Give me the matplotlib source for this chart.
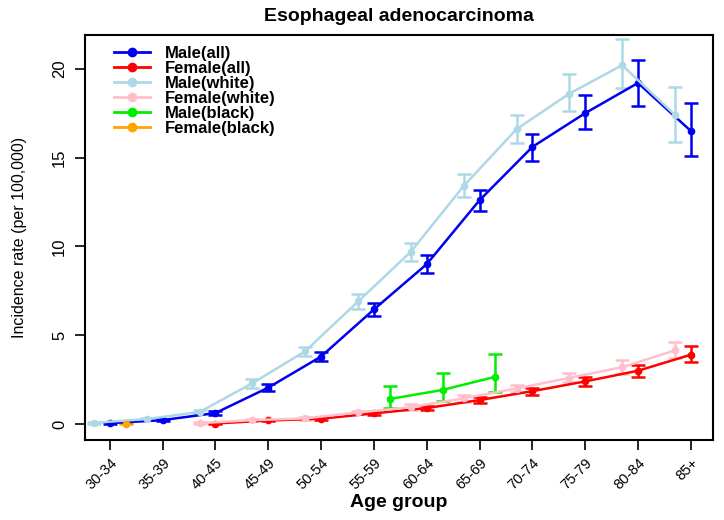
import numpy as np
import matplotlib.pyplot as plt
from matplotlib.lines import Line2D

plt.rcParams['font.family'] = ['Liberation Sans', 'DejaVu Sans']

# 年龄组
ages = ['30-34', '35-39', '40-45', '45-49', '50-54', '55-59', '60-64',
        '65-69', '70-74', '75-79', '80-84', '85+']

# 各组发病率 (每10万) 及误差上下限
male_all = [0.05, 0.22, 0.62, 2.05, 3.8, 6.45, 9.0, 12.6, 15.6, 17.5, 19.2, 16.5]
male_all_lo = [0.0, 0.15, 0.5, 1.85, 3.55, 6.1, 8.5, 12.0, 14.8, 16.6, 17.9, 15.1]
male_all_hi = [0.1, 0.3, 0.75, 2.25, 4.05, 6.8, 9.5, 13.2, 16.3, 18.5, 20.5, 18.1]

female_all = [np.nan, np.nan, 0.03, 0.2, 0.3, 0.6, 0.9, 1.35, 1.85, 2.4, 3.0, 3.9]
female_all_lo = [np.nan, np.nan, 0.0, 0.15, 0.22, 0.5, 0.78, 1.2, 1.65, 2.15, 2.65, 3.5]
female_all_hi = [np.nan, np.nan, 0.06, 0.25, 0.38, 0.7, 1.02, 1.5, 2.05, 2.65, 3.35, 4.4]

male_white = [0.07, 0.28, 0.68, 2.3, 4.1, 6.9, 9.7, 13.4, 16.6, 18.6, 20.2, 17.4]
male_white_lo = [0.02, 0.2, 0.55, 2.05, 3.85, 6.5, 9.2, 12.8, 15.8, 17.6, 18.9, 15.9]
male_white_hi = [0.12, 0.36, 0.8, 2.55, 4.35, 7.3, 10.2, 14.1, 17.4, 19.7, 21.7, 19.0]

female_white = [np.nan, np.nan, 0.05, 0.22, 0.32, 0.65, 0.95, 1.45, 2.0, 2.6, 3.2, 4.15]
female_white_lo = [np.nan, np.nan, 0.0, 0.16, 0.25, 0.55, 0.8, 1.25, 1.78, 2.35, 2.8, 3.7]
female_white_hi = [np.nan, np.nan, 0.1, 0.28, 0.4, 0.75, 1.1, 1.65, 2.22, 2.85, 3.6, 4.6]

male_black = [np.nan] * 5 + [1.41, 1.92, 2.66] + [np.nan] * 4
male_black_lo = [np.nan] * 5 + [0.88, 1.28, 1.79] + [np.nan] * 4
male_black_hi = [np.nan] * 5 + [2.14, 2.9, 3.94] + [np.nan] * 4

female_black = [0.02] + [np.nan] * 11
female_black_lo = [0.0] + [np.nan] * 11
female_black_hi = [0.04] + [np.nan] * 11

series = [
    ('Male(all)', male_all, male_all_lo, male_all_hi, '#0000ee', 0.0),
    ('Female(all)', female_all, female_all_lo, female_all_hi, '#ff0000', 0.0),
    ('Male(white)', male_white, male_white_lo, male_white_hi, '#add8e6', -0.3),
    ('Female(white)', female_white, female_white_lo, female_white_hi, '#ffc0cb', -0.3),
    ('Male(black)', male_black, male_black_lo, male_black_hi, '#00ee00', 0.3),
    ('Female(black)', female_black, female_black_lo, female_black_hi, '#ffa500', 0.3),
]

fig = plt.figure(figsize=(7.24, 5.2), dpi=100)
ax = fig.add_axes([0.1174, 0.1538, 0.8674, 0.7789])

x = np.arange(1, len(ages) + 1)
handles = []
for name, y, lo, hi, c, off in series:
    y = np.array(y, dtype=float)
    lo = np.array(lo, dtype=float)
    hi = np.array(hi, dtype=float)
    ax.errorbar(x + off, y, yerr=[y - lo, hi - y], color=c, lw=1.8,
                marker='o', ms=4.5, capsize=5, capthick=1.8, elinewidth=1.8)
    handles.append(Line2D([], [], color=c, lw=2, marker='o', ms=6, label=name))

ax.set_xlim(0.53, 12.42)
ax.set_ylim(-0.9, 21.9)
ax.set_xticks(x)
ax.set_xticklabels(ages, rotation=45, ha='right', rotation_mode='anchor',
                   fontsize=10.5)
ax.set_yticks([0, 5, 10, 15, 20])
ax.set_yticklabels(['0', '5', '10', '15', '20'], rotation=90, va='center',
                   fontsize=12)
ax.tick_params(axis='both', length=7, width=1.2, direction='out')
ax.tick_params(axis='x', pad=4)
ax.tick_params(axis='y', pad=6)
for s in ax.spines.values():
    s.set_linewidth(1.5)

ax.set_title('Esophageal adenocarcinoma', fontsize=14, fontweight='bold', pad=10)
ax.set_xlabel('Age group', fontsize=14, fontweight='bold', labelpad=2)
ax.set_ylabel('Incidence rate (per 100,000)', fontsize=11.5, labelpad=18,
              family=['Liberation Sans Narrow', 'Liberation Sans'])

ax.legend(handles=handles, loc='upper left', frameon=False,
          prop={'weight': 'bold', 'size': 12}, handlelength=2.2,
          handletextpad=0.9, labelspacing=0.0, borderaxespad=0.0,
          bbox_to_anchor=(0.035, 0.99))

fig.savefig('out.png', dpi=100)
